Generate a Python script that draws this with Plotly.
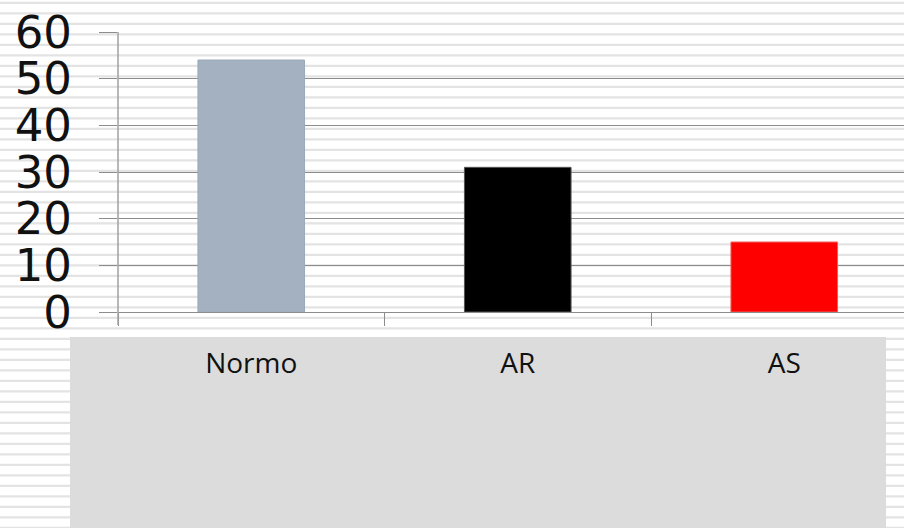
import plotly.graph_objects as go

# Chart data
categories = ["Normo", "AR", "AS"]
values = [54, 31, 15]
bar_colors = ["#A3B1C1", "#000000", "#FF0000"]
bar_edges = ["#9AA8B8", "#555555", "#F06060"]
y_ticks = [0, 10, 20, 30, 40, 50, 60]

# Page geometry (pixels)
W, H = 904, 528
ML, MR, MT, MB = 118, 0, 32, 216
PW, PH = W - ML - MR, H - MT - MB


def px_x(p):
    return (p - ML) / PW


def px_y(p):
    return 1 - (p - MT) / PH


shapes = []
# Narrow horizontal stripe pattern over the whole page
period, thick, start = 10.5, 2.2, 1.8
y = start
while y < H:
    shapes.append(dict(type="rect", xref="paper", yref="paper",
                       x0=px_x(0), x1=px_x(W), y0=px_y(y + thick), y1=px_y(y),
                       fillcolor="#E3E3E3", line=dict(width=0), layer="below"))
    y += period

# Grey panel behind the category labels
shapes.append(dict(type="rect", xref="paper", yref="paper",
                   x0=px_x(70), x1=px_x(886), y0=px_y(H + 5), y1=px_y(337),
                   fillcolor="#DCDCDC", line=dict(width=0), layer="below"))

# Vertical value-axis line, running down through the first category tick
shapes.append(dict(type="line", xref="paper", yref="paper",
                   x0=0, x1=0, y0=px_y(325), y1=1,
                   line=dict(color="#A0A0A0", width=1.5), layer="above"))

fig = go.Figure(go.Bar(
    x=categories, y=values, width=0.4,
    marker=dict(color=bar_colors, line=dict(color=bar_edges, width=1)),
))

fig.update_layout(
    width=W, height=H,
    margin=dict(l=ML, r=MR, t=MT, b=MB, pad=0),
    paper_bgcolor="white", plot_bgcolor="rgba(0,0,0,0)",
    showlegend=False, shapes=shapes,
    bargap=0.6,
)

fig.update_xaxes(
    type="category", range=[-0.5, -0.5 + PW / 266.5],
    tickson="boundaries", ticks="outside", ticklen=13, tickwidth=1.3,
    tickcolor="#8C8C8C", showline=True, linecolor="#8C8C8C", linewidth=1.3,
    showgrid=False, zeroline=False,
    tickfont=dict(family="Open Sans", size=28, color="#111111"),
    ticklabelstandoff=26,
)

fig.update_yaxes(
    range=[0, 60], tickvals=y_ticks, ticktext=[str(v) for v in y_ticks],
    ticks="outside", ticklen=18, tickwidth=1.3, tickcolor="#8C8C8C",
    showgrid=True, gridcolor="#8C8C8C", gridwidth=1.3,
    showline=False, zeroline=False,
    tickfont=dict(family="DejaVu Sans", size=45, color="#111111"),
    ticklabelstandoff=18,
)

fig.write_html("out.html")
